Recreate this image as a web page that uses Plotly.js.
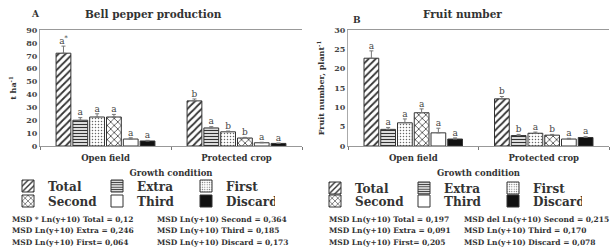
<!DOCTYPE html>
<html><head><meta charset="utf-8">
<script src="https://cdn.plot.ly/plotly-3.0.1.min.js"></script>
<style>html,body{margin:0;padding:0;background:#fff}#c{width:616px;height:252px}</style>
</head><body><div id="c"></div>
<script>
// ---- data ----
const categories = ['Open field', 'Protected crop'];
const grades = ['Total', 'Extra', 'First', 'Second', 'Third', 'Discard'];

const prodOpen = [72, 20, 22.5, 22.5, 5.4, 3.9];
const prodProtected = [35, 14, 11, 6.2, 2.5, 2];
const prodErrOpen = [5.5, 2, 2.5, 2, 1, 0.5];
const prodErrProtected = [1.5, 1, 0.6, 0.5, 0.4, 0.3];
const prodLettersOpen = ['a<sup>*</sup>', 'a', 'a', 'a', 'a', 'a'];
const prodLettersProtected = ['b', 'a', 'b', 'b', 'a', 'a'];

const fruitOpen = [22.7, 4.3, 6.0, 8.6, 3.4, 1.8];
const fruitProtected = [12.2, 2.7, 3.3, 2.8, 1.8, 2.2];
const fruitErrOpen = [1.9, 0.5, 1.0, 1.0, 1.2, 0.3];
const fruitErrProtected = [0.6, 0.3, 0.3, 0.2, 0.2, 0.2];
const fruitLettersOpen = ['a', 'a', 'a', 'a', 'a', 'a'];
const fruitLettersProtected = ['b', 'b', 'a', 'b', 'a', 'a'];

const prodMSD = ['MSD * Ln(y+10) Total = 0,12', 'MSD Ln(y+10) Extra = 0,246', 'MSD Ln(y+10) First= 0,064',
                 'MSD Ln(y+10) Second = 0,364', 'MSD Ln(y+10) Third = 0,185', 'MSD Ln(y+10) Discard = 0,173'];
const fruitMSD = ['MSD Ln(y+10) Total = 0,197', 'MSD Ln(y+10) Extra = 0,091', 'MSD Ln(y+10) First= 0,205',
                  'MSD del Ln(y+10) Second = 0,215', 'MSD Ln(y+10) Third = 0,170', 'MSD Ln(y+10) Discard = 0,078'];

// ---- styles ----
const FONT = 'DejaVu Serif';
const TXT = '#333';
const patterns = [
  {shape: '/', fgcolor: '#333', bgcolor: '#fff', size: 5, solidity: 0.35},
  {shape: '-', fgcolor: '#333', bgcolor: '#fff', size: 3, solidity: 0.45},
  {shape: '.', fgcolor: '#666', bgcolor: '#fff', size: 3, solidity: 0.2},
  {shape: 'x', fgcolor: '#444', bgcolor: '#fff', size: 5, solidity: 0.3},
  {shape: '', fgcolor: '#333', bgcolor: '#fff'},
  {shape: '', fgcolor: '#111', bgcolor: '#111'}
];
const fills = ['#fff', '#fff', '#fff', '#fff', '#fff', '#111'];

const W = 616, H = 252;
const px = v => v / W;
const py = v => 1 - v / H;

const traces = [];
function addPanel(xa, ya, open, prot, errO, errP, letO, letP, leg1, leg2) {
  grades.forEach((g, i) => {
    traces.push({
      type: 'bar', x: categories, y: [open[i], prot[i]], name: g,
      xaxis: xa, yaxis: ya,
      legend: i < 3 ? leg1 : leg2,
      marker: {color: fills[i], pattern: patterns[i], line: {color: '#333', width: 1}},
      error_y: {type: 'data', symmetric: false, array: [errO[i], errP[i]], arrayminus: [0, 0],
                color: '#777', thickness: 1, width: 2},
      hoverinfo: 'skip'
    });
  });
  grades.forEach((g, i) => {
    traces.push({
      type: 'scatter', mode: 'text', x: categories,
      y: [open[i] + errO[i], prot[i] + errP[i]],
      text: [letO[i], letP[i]], textposition: 'top center',
      textfont: {family: 'DejaVu Serif', size: 9, color: '#444'},
      xaxis: xa, yaxis: ya, showlegend: false, hoverinfo: 'skip', cliponaxis: false
    });
  });
}
addPanel('x', 'y', prodOpen, prodProtected, prodErrOpen, prodErrProtected,
         prodLettersOpen, prodLettersProtected, 'legend', 'legend2');
addPanel('x2', 'y2', fruitOpen, fruitProtected, fruitErrOpen, fruitErrProtected,
         fruitLettersOpen, fruitLettersProtected, 'legend3', 'legend4');

const tickFont = {family: FONT, size: 8, color: '#444', weight: 'bold'};
function xAxis(d) {
  return {domain: d, type: 'category', tickson: 'boundaries', ticks: 'outside', ticklen: 3,
          tickcolor: '#777', showline: true, linecolor: '#999', mirror: true, showgrid: false,
          ticklabelstandoff: 4,
          tickfont: {family: FONT, size: 8.5, color: TXT, weight: 'bold'},
          title: {text: 'Growth condition', font: {family: FONT, size: 8.5, color: TXT, weight: 'bold'}, standoff: 7}};
}
function yAxis(d, r, dt, t, anchor) {
  return {domain: d, range: r, dtick: dt, showline: true, linecolor: '#aaa', showgrid: false,
          zeroline: false, ticks: '', tickfont: tickFont, anchor: anchor,
          title: {text: t, font: {family: FONT, size: 8, color: TXT, weight: 'bold'}, standoff: 8}};
}
const yd = [py(146), py(30)];

function legendAt(x, y) {
  return {orientation: 'h', x: x, y: y, xanchor: 'left', yanchor: 'middle', entrywidth: 44,
          itemwidth: 30, bgcolor: 'rgba(0,0,0,0)', tracegroupgap: 0,
          font: {family: FONT, size: 12, color: TXT, weight: 'bold'}};
}

const annotations = [];
function ann(text, x, y, size, anchor) {
  annotations.push({xref: 'paper', yref: 'paper', x: px(x), y: py(y), text: text, showarrow: false,
                    xanchor: anchor || 'left', yanchor: 'middle',
                    font: {family: FONT, size: size, color: TXT, weight: 'bold'}});
}
ann('A', 35, 14, 9, 'center');
ann('Bell pepper production', 153, 14, 10.5, 'center');
ann('B', 357, 20, 9, 'center');
ann('Fruit number', 462, 14, 10.5, 'center');
const rows = [219, 230, 242];
[0, 1, 2].forEach(r => {
  ann(prodMSD[r], 10, rows[r], 7.5);
  ann(prodMSD[r + 3], 155, rows[r], 7.5);
  ann(fruitMSD[r], 327, rows[r], 7.5);
  ann(fruitMSD[r + 3], 462, rows[r], 7.5);
});

const layout = {
  width: W, height: H, margin: {l: 0, r: 0, t: 0, b: 0},
  paper_bgcolor: '#fff', plot_bgcolor: '#fff',
  barmode: 'group', bargap: 0.23, bargroupgap: 0.12,
  scattermode: 'group', scattergap: 0.23,
  xaxis: xAxis([px(40), px(302)]),
  yaxis: yAxis(yd, [0, 90], 10, 't ha<sup>-1</sup>', 'x'),
  xaxis2: Object.assign(xAxis([px(348), px(609)]), {anchor: 'y2'}),
  yaxis2: yAxis(yd, [0, 30], 5, 'Fruit number, plant<sup>-1</sup>', 'x2'),
  legend: legendAt(px(8), py(186)),
  legend2: legendAt(px(8), py(201)),
  legend3: legendAt(px(315), py(188)),
  legend4: legendAt(px(315), py(201)),
  annotations: annotations,
  showlegend: true
};
layout.xaxis.anchor = 'y';

Plotly.newPlot('c', traces, layout, {staticPlot: true, displayModeBar: false});
</script></body></html>
